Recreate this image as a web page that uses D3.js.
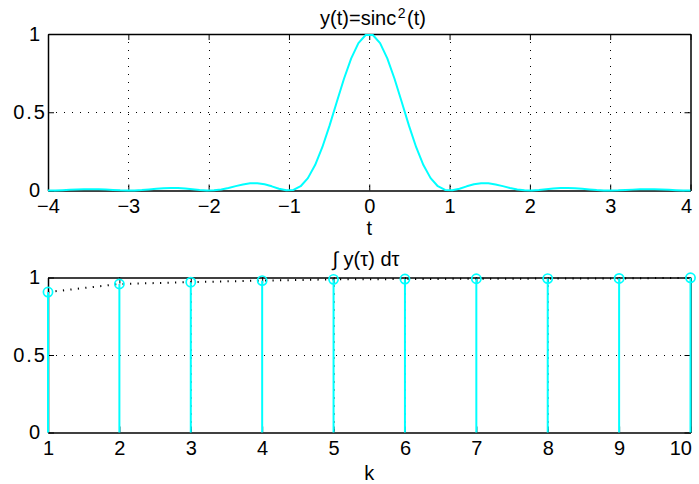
<!DOCTYPE html>
<html>
<head>
<meta charset="utf-8">
<script src="https://cdn.jsdelivr.net/npm/d3@7"></script>
<style>
  body { margin: 0; background: #fff; }
  text { font-family: "Liberation Sans", Arial, Helvetica, sans-serif; fill: #000; }
</style>
</head>
<body>
<svg id="chart" width="699" height="484"></svg>
<script>
// Sample instants t (90 points over [-4, 4]) and y(t) = sinc^2(t) at those instants
const tValues = [
  -4.0000, -3.9101, -3.8202, -3.7303, -3.6404, -3.5506, -3.4607, -3.3708, -3.2809, -3.1910,
  -3.1011, -3.0112, -2.9213, -2.8315, -2.7416, -2.6517, -2.5618, -2.4719, -2.3820, -2.2921,
  -2.2022, -2.1124, -2.0225, -1.9326, -1.8427, -1.7528, -1.6629, -1.5730, -1.4831, -1.3933,
  -1.3034, -1.2135, -1.1236, -1.0337, -0.9438, -0.8539, -0.7640, -0.6742, -0.5843, -0.4944,
  -0.4045, -0.3146, -0.2247, -0.1348, -0.0449,
   0.0449,  0.1348,  0.2247,  0.3146,  0.4045,  0.4944,  0.5843,  0.6742,  0.7640,  0.8539,
   0.9438,  1.0337,  1.1236,  1.2135,  1.3034,  1.3933,  1.4831,  1.5730,  1.6629,  1.7528,
   1.8427,  1.9326,  2.0225,  2.1124,  2.2022,  2.2921,  2.3820,  2.4719,  2.5618,  2.6517,
   2.7416,  2.8315,  2.9213,  3.0112,  3.1011,  3.1910,  3.2809,  3.3708,  3.4607,  3.5506,
   3.6404,  3.7303,  3.8202,  3.9101,  4.0000
];
const yValues = [
  0.0000, 0.0005, 0.0020, 0.0041, 0.0063, 0.0078, 0.0083, 0.0075, 0.0056, 0.0032,
  0.0010, 0.0000, 0.0007, 0.0032, 0.0071, 0.0114, 0.0149, 0.0165, 0.0155, 0.0122,
  0.0074, 0.0027, 0.0001, 0.0012, 0.0067, 0.0162, 0.0279, 0.0388, 0.0459, 0.0465,
  0.0396, 0.0266, 0.0115, 0.0011, 0.0035, 0.0273, 0.0791, 0.1626, 0.2765, 0.4144,
  0.5652, 0.7140, 0.8445, 0.9416, 0.9934,
  0.9934, 0.9416, 0.8445, 0.7140, 0.5652, 0.4144, 0.2765, 0.1626, 0.0791, 0.0273,
  0.0035, 0.0011, 0.0115, 0.0266, 0.0396, 0.0465, 0.0459, 0.0388, 0.0279, 0.0162,
  0.0067, 0.0012, 0.0001, 0.0027, 0.0074, 0.0122, 0.0155, 0.0165, 0.0149, 0.0114,
  0.0071, 0.0032, 0.0007, 0.0000, 0.0010, 0.0032, 0.0056, 0.0075, 0.0083, 0.0078,
  0.0063, 0.0041, 0.0020, 0.0005, 0.0000
];

// Accumulated energy for each k
const kValues = [1, 2, 3, 4, 5, 6, 7, 8, 9, 10];
const energyValues = [0.906, 0.958, 0.970, 0.980, 0.988, 0.990, 0.992, 0.993, 0.994, 0.998];

// Tick values
const tTicks = [-4, -3, -2, -1, 0, 1, 2, 3, 4];
const kTicks = [1, 2, 3, 4, 5, 6, 7, 8, 9, 10];
const yTicks = [0, 0.5, 1];

const CYAN = "#00ffff";
const FONT = 20;
const svg = d3.select("#chart");

const left = 48, right = 690.5;

const xT = d3.scaleLinear().domain([-4, 4]).range([left, right]);
const yT = d3.scaleLinear().domain([0, 1]).range([190.5, 34]);
const xK = d3.scaleLinear().domain([1, 10]).range([left, right]);
const yK = d3.scaleLinear().domain([0, 1]).range([432.5, 277.5]);

function drawFrame(x, y, xTicks) {
  const [x0, x1] = x.range();
  const [y0, y1] = y.range();
  const g = svg.append("g");

  // dotted grid
  const grid = g.append("g").attr("stroke", "#000").attr("stroke-width", 1)
    .attr("stroke-dasharray", "1,7");
  grid.selectAll("line.gx").data(xTicks.slice(1, -1)).join("line")
    .attr("x1", d => Math.round(x(d)) + 0.5).attr("x2", d => Math.round(x(d)) + 0.5)
    .attr("y1", y1).attr("y2", y0);
  grid.selectAll("line.gy").data(yTicks.slice(1, -1)).join("line")
    .attr("x1", x0).attr("x2", x1)
    .attr("y1", d => Math.round(y(d)) + 0.5).attr("y2", d => Math.round(y(d)) + 0.5);

  // bottom axis with labels
  const ax = g.append("g").attr("transform", `translate(0,${y0})`)
    .call(d3.axisBottom(x).tickValues(xTicks).tickSizeInner(-6).tickSizeOuter(0).tickPadding(8));
  // top axis (ticks only)
  g.append("g").attr("transform", `translate(0,${y1})`)
    .call(d3.axisTop(x).tickValues(xTicks).tickSizeInner(-6).tickSizeOuter(0).tickFormat(""));
  // left axis with labels
  const ay = g.append("g").attr("transform", `translate(${x0},0)`)
    .call(d3.axisLeft(y).tickValues(yTicks).tickSizeInner(-6).tickSizeOuter(0).tickPadding(8)
      .tickFormat(d3.format("")));
  // right axis (ticks only)
  g.append("g").attr("transform", `translate(${x1},0)`)
    .call(d3.axisRight(y).tickValues(yTicks).tickSizeInner(-6).tickSizeOuter(0).tickFormat(""));

  g.selectAll(".domain").attr("stroke", "#000").attr("stroke-width", 1.5);
  g.selectAll(".tick line").attr("stroke", "#000").attr("stroke-width", 1);
  g.selectAll("text").attr("font-size", FONT)
    .attr("font-family", '"Liberation Sans", Arial, Helvetica, sans-serif').attr("fill", "#000");

  // right-most x label kept inside the frame
  ax.selectAll(".tick:last-of-type text").attr("text-anchor", "end").attr("x", 1);
  // the 0.5 label
  ay.selectAll(".tick text").filter(d => d === 0.5).attr("x", -1).attr("letter-spacing", 2);
  return g;
}

// ---------- top panel: y(t) = sinc^2(t) ----------
drawFrame(xT, yT, tTicks);

const curve = d3.line().x((d, i) => xT(tValues[i])).y(d => yT(d));
svg.append("path")
  .attr("d", curve(yValues))
  .attr("fill", "none").attr("stroke", CYAN).attr("stroke-width", 2)
  .attr("stroke-linejoin", "round");

const title1 = svg.append("text").attr("x", 373).attr("y", 25)
  .attr("text-anchor", "middle").attr("font-size", FONT);
title1.append("tspan").text("y(t)=sinc");
title1.append("tspan").attr("font-size", 14).attr("dy", -7).attr("dx", 1.5).text("2");
title1.append("tspan").attr("dy", 7).attr("dx", 1.5).text("(t)");

svg.append("text").attr("x", xT(0)).attr("y", 235)
  .attr("text-anchor", "middle").attr("font-size", FONT).text("t");

// ---------- bottom panel: accumulated integral vs k ----------
drawFrame(xK, yK, kTicks);

const dotted = d3.line().x((d, i) => xK(kValues[i])).y(d => yK(d));
svg.append("path")
  .attr("d", dotted(energyValues))
  .attr("fill", "none").attr("stroke", "#000").attr("stroke-width", 2)
  .attr("stroke-dasharray", "1.2,6.3");

const stems = svg.append("g");
stems.selectAll("line").data(energyValues).join("line")
  .attr("x1", (d, i) => xK(kValues[i])).attr("x2", (d, i) => xK(kValues[i]))
  .attr("y1", yK(0)).attr("y2", d => yK(d))
  .attr("stroke", CYAN).attr("stroke-width", 2);
stems.selectAll("circle").data(energyValues).join("circle")
  .attr("cx", (d, i) => xK(kValues[i])).attr("cy", d => yK(d))
  .attr("r", 4.6).attr("fill", "none").attr("stroke", CYAN).attr("stroke-width", 1.7);

svg.append("text").attr("x", 366).attr("y", 266)
  .attr("text-anchor", "middle").attr("font-size", FONT).text("∫ y(τ) dτ");

svg.append("text").attr("x", xK(5.5)).attr("y", 480)
  .attr("text-anchor", "middle").attr("font-size", FONT).text("k");
</script>
</body>
</html>
